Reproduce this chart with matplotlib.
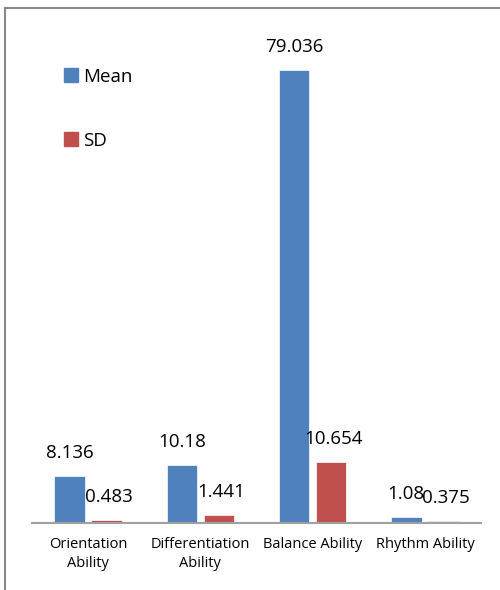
import matplotlib
matplotlib.use('Agg')
import matplotlib.pyplot as plt
import numpy as np
from matplotlib.lines import Line2D
from matplotlib.patches import Patch

categories = ['Orientation\nAbility', 'Differentiation\nAbility', 'Balance Ability', 'Rhythm Ability']
mean_vals = [8.136, 10.18, 79.036, 1.08]
sd_vals = [0.483, 1.441, 10.654, 0.375]
mean_labels = ['8.136', '10.18', '79.036', '1.08']
sd_labels = ['0.483', '1.441', '10.654', '0.375']

blue = '#4F81BD'
red = '#C0504D'
font = 'Open Sans'

fig = plt.figure(figsize=(5, 5.9), dpi=100)
W, H = 500, 590
ax = fig.add_axes([32 / W, 1 - 523 / H, 449 / W, 493 / H])

x = np.arange(len(categories))
w = 0.27
off = 0.165
ax.bar(x - off, mean_vals, w, color=blue, edgecolor='white', linewidth=0.5, label='Mean')
ax.bar(x + off, sd_vals, w, color=red, edgecolor='white', linewidth=0.5, label='SD')

# data labels sit ~23 px above bar tops
pad = 23 / 5.73
for xi, v, t in zip(x - off, mean_vals, mean_labels):
    ax.text(xi, v + pad, t, ha='center', va='center', fontsize=13.5, family=font)
for xi, v, t in zip(x + off, sd_vals, sd_labels):
    ax.text(xi + 0.02, v + pad, t, ha='center', va='center', fontsize=13.5, family=font)

ax.set_xlim(-0.5, 3.5)
ax.set_ylim(0, 493 / 5.73)
ax.set_xticks(x)
ax.set_xticklabels(categories, fontsize=10.5, family=font, linespacing=1.4)
ax.tick_params(axis='x', length=0, pad=10)
ax.set_yticks([])
for s in ['top', 'right', 'left']:
    ax.spines[s].set_visible(False)
ax.spines['bottom'].set_color('#A0A0A0')
ax.spines['bottom'].set_linewidth(1.5)

handles = [Patch(color=blue), Patch(color=red)]
fig.legend(handles, ['Mean', 'SD'], loc='upper left', bbox_to_anchor=(47 / W, 1 - 51 / H),
           frameon=False, handlelength=0.75, handleheight=0.75, handletextpad=0.3,
           labelspacing=2.45, prop={'family': font, 'size': 13.5})

# outer frame: top and left edges
fig.add_artist(Line2D([5 / W, 1], [1 - 8 / H, 1 - 8 / H], color='#888888', linewidth=1.5))
fig.add_artist(Line2D([5 / W, 5 / W], [0, 1 - 8 / H], color='#888888', linewidth=1.5))

fig.savefig('out.png', dpi=100, facecolor='white')
